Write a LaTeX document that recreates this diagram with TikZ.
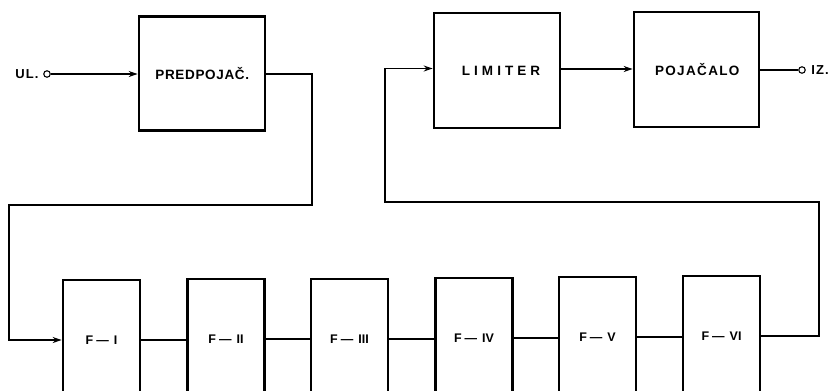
\documentclass[tikz,border=0pt]{standalone}
\usepackage{fontspec}
\setmainfont{Liberation Sans}
\newfontfamily\spB{Liberation Sans}[LetterSpace=5]
\newfontfamily\spL{Liberation Sans}[LetterSpace=30]
\newfontfamily\spP{Liberation Sans}[LetterSpace=10]
\newfontfamily\spT{Liberation Sans}[LetterSpace=8]
\newfontfamily\spF{Liberation Sans}
\usetikzlibrary{arrows.meta}
\newcommand{\fl}[1]{F\hspace{3pt}—\hspace{5pt}#1}
\begin{document}
\begin{tikzpicture}[x=1pt,y=-1pt,
  blk/.style={draw, line width=2.6pt, inner sep=0pt, minimum width=126pt, minimum height=114pt},
  fblk/.style={draw, line width=2.6pt, inner sep=0pt, minimum width=77pt, minimum height=120pt, font={\spF\fontsize{12.5}{14}\selectfont\bfseries}},
  wire/.style={line width=1.1pt},
  arr/.style={wire, -{Stealth[length=9pt,width=6pt]}},
  term/.style={circle, draw, line width=1.1pt, inner sep=0pt, minimum size=6.5pt},
  lbl/.style={inner sep=0pt, font={\spT\fontsize{13}{15}\selectfont\bfseries}}]
\useasboundingbox (0,0) rectangle (831,391);
\clip (0,0) rectangle (831,391);
% top row
\node[blk, font={\spB\fontsize{13.5}{15}\selectfont\bfseries}] (pred) at (202,73.5) {\hspace{0.5pt}PREDPOJAČ.};
\node[blk, font={\spL\fontsize{13.5}{15}\selectfont\bfseries}, minimum height=115pt] (lim) at (497,70.5) {\hspace{8pt}LIMITER};
\node[blk, font={\spP\fontsize{13.5}{15}\selectfont\bfseries}, minimum width=125pt, minimum height=115pt] (poj) at (696.5,69.5) {\hspace{1.5pt}POJAČALO};
% terminals
\node[lbl] (ul) at (27,74) {UL.};
\node[term] (tin) at (47,74) {};
\node[term] (tout) at (802,70) {};
\node[lbl] (iz) at (820,70) {IZ.};
% bottom row
\node[fblk] (f1) at (101.5,340) {\fl{I}};
\node[fblk] (f2) at (226,339) {\fl{II}};
\node[fblk] (f3) at (349.5,339) {\fl{III}};
\node[fblk] (f4) at (474,338) {\fl{IV}};
\node[fblk] (f5) at (597.5,337) {\fl{V}};
\node[fblk] (f6) at (721.5,336) {\fl{VI}};
% corner coordinates
\coordinate (c1) at (312,205);
\coordinate (c2) at (9,205);
\coordinate (c3) at (819,202);
\coordinate (c4) at (385,202);
\coordinate (limin) at ([yshift=2pt]lim.west);
\coordinate (limout) at ([yshift=1.5pt]lim.east);
% connectors
\draw[arr] (tin) -- (pred.west |- tin);
\draw[arr] (pred.east |- tin) -| (c1) -- (c2) |- (f1.west);
\draw[wire] (f1.east) -- (f1.east -| f2.west);
\draw[wire] (f2.east) -- (f2.east -| f3.west);
\draw[wire] (f3.east) -- (f3.east -| f4.west);
\draw[wire] (f4.east) -- (f4.east -| f5.west);
\draw[wire] (f5.east) -- (f5.east -| f6.west);
\draw[arr] (f6.east) -| (c3) -- (c4) |- (limin);
\draw[arr] (limout) -- (limout -| poj.west);
\draw[wire] (poj.east |- tout) -- (tout);
\end{tikzpicture}
\end{document}
